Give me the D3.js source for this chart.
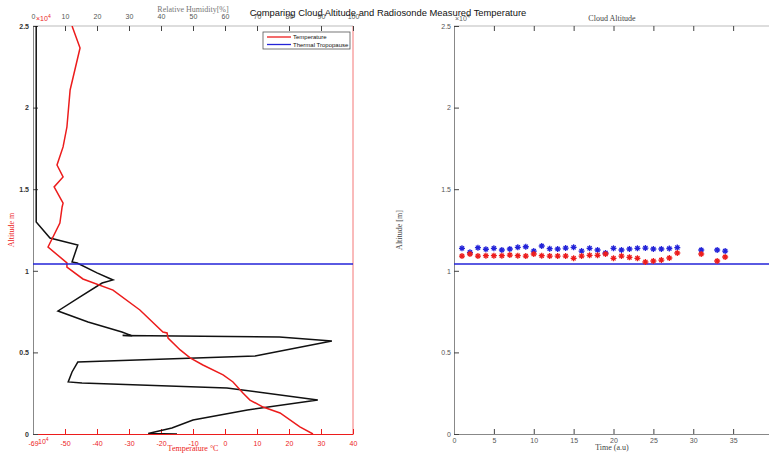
<!DOCTYPE html>
<meta charset="utf-8">
<style>
body { margin: 0; background: #fff; }
svg { display: block; }
.tick text { font-family: "Liberation Sans", Arial, sans-serif; font-size: 7px; }
.lbl { font-family: "Liberation Serif", "Times New Roman", serif; font-size: 8px; }
</style>
<svg width="769" height="454"></svg>
<script src="https://d3js.org/d3.v7.min.js"></script>
<script>

// temperature sounding (altitude m, temperature C)
var altT  = [0, 430, 1290, 1650, 2080, 2510, 3190, 3620, 4230, 4660, 5150, 5880, 6190, 6250, 7600, 8820, 9500, 10230, 10480, 11460, 12930, 13910, 14150, 15140, 15750, 16480, 17590, 18810, 21080, 23650, 25000];
var tempC = [27.5, 23.4, 17.2, 11.9, 7.8, 5.6, 2.5, -0.6, -6.9, -10.9, -14, -17.8, -18.1, -19.4, -26.6, -35, -44.4, -49.4, -49.4, -55.3, -51.6, -50.9, -50.6, -53.4, -50.6, -52.5, -50.6, -49.4, -48.4, -45.3, -47.8];

// relative humidity profile (altitude m, RH %)
var altRH = [0, 30, 370, 860, 1470, 2080, 2820, 3125, 3190, 3800, 4410, 4780, 5700, 5950, 6040, 6010, 6250, 6860, 7540, 8400, 9250, 9440, 9870, 10480, 10540, 11580, 12010, 12990, 25000];
var rh    = [45, 36, 43.4, 50, 67, 89, 60.6, 15.3, 11, 12.2, 14, 69.4, 93.4, 77, 28, 31, 27.8, 17.2, 7.8, 14.7, 21.6, 25, 20, 13.8, 12.2, 14, 5.3, 1, 1];

var tropopause = 10420;

// cloud altitude measurements
var times     = [1, 2, 3, 4, 5, 6, 7, 8, 9, 10, 11, 12, 13, 14, 15, 16, 17, 18, 19, 20, 21, 22, 23, 24, 25, 26, 27, 28, 31, 33, 34];
var cloudTop  = [11380, 11130, 11415, 11320, 11380, 11275, 11335, 11440, 11475, 11210, 11520, 11355, 11335, 11395, 11440, 11210, 11380, 11275, 11090, 11380, 11275, 11335, 11380, 11395, 11335, 11335, 11365, 11425, 11275, 11275, 11210];
var cloudBase = [10905, 11030, 10905, 10925, 10925, 10925, 10965, 10925, 10905, 11030, 10925, 10905, 10905, 10905, 10765, 10905, 10950, 10950, 11030, 10765, 10905, 10825, 10765, 10540, 10600, 10660, 10785, 11090, 11030, 10600, 10845];

var tempTicks = [-60, -50, -40, -30, -20, -10, 0, 10, 20, 30, 40];
var rhTicks   = [0, 10, 20, 30, 40, 50, 60, 70, 80, 90, 100];
var altTicks  = [0, 5000, 10000, 15000, 20000, 25000];
var timeTicks = [0, 5, 10, 15, 20, 25, 30, 35];

var red = "#ec1c1c", blue = "#2323d8", grey = "#888", dark = "#444";

var svg = d3.select("svg");

var yTop = 26, yBot = 434;

var y = d3.scaleLinear().domain([0, 25000]).range([yBot, yTop]);
var xT = d3.scaleLinear().domain([-60, 40]).range([33, 353]);
var xH = d3.scaleLinear().domain([0, 100]).range([33, 353]);
var xTime = d3.scaleLinear().domain([0, 40]).range([454, 773]);

function fmtAlt(d) { return d3.format("~g")(d / 10000); }

// ---------- left panel ----------
var L = svg.append("g");

L.append("line").attr("x1", 33).attr("x2", 353).attr("y1", yTop).attr("y2", yTop)
  .attr("stroke", "#bbb");
L.append("line").attr("x1", 353).attr("x2", 353).attr("y1", yTop).attr("y2", yBot)
  .attr("stroke", red).attr("stroke-opacity", 0.6);

// top RH axis
var gTop = L.append("g").attr("transform", "translate(0," + yTop + ")")
  .call(d3.axisTop(xH).tickValues(rhTicks).tickSize(-5).tickSizeOuter(0).tickPadding(7));
gTop.select(".domain").remove();
gTop.selectAll("line").attr("stroke", dark);
gTop.selectAll("text").attr("fill", "#555");

// bottom temperature axis
var gBot = L.append("g").attr("transform", "translate(0," + yBot + ")")
  .call(d3.axisBottom(xT).tickValues(tempTicks).tickSize(-5).tickSizeOuter(0).tickPadding(7)
    .tickFormat(function(d) { return d === -60 ? "-69" : d; }));
gBot.select(".domain").attr("stroke", red);
gBot.selectAll("line").attr("stroke", red);
gBot.selectAll("text").attr("fill", red);

// left altitude axis
var gLeft = L.append("g").attr("transform", "translate(33,0)")
  .call(d3.axisLeft(y).tickValues(altTicks).tickSize(-5).tickSizeOuter(0).tickPadding(4).tickFormat(fmtAlt));
gLeft.select(".domain").attr("stroke", grey);
gLeft.selectAll("line").attr("stroke", dark);
gLeft.selectAll("text").attr("fill", "#333").attr("font-weight", "bold");

L.append("text").attr("x", 36).attr("y", 21).attr("fill", red)
  .style("font-family", "Liberation Sans").style("font-size", "7px")
  .html('×10<tspan dy="-3" font-size="5">4</tspan>');
L.append("text").attr("x", 38).attr("y", 444).attr("fill", red)
  .style("font-family", "Liberation Sans").style("font-size", "7px")
  .html('10<tspan dy="-3" font-size="5">4</tspan>');

L.append("text").attr("class", "lbl").attr("x", 193).attr("y", 12)
  .attr("text-anchor", "middle").attr("fill", "#777").text("Relative Humidity[%]");
L.append("text").attr("class", "lbl").attr("x", 193).attr("y", 451)
  .attr("text-anchor", "middle").attr("fill", red).text("Temperature °C");
L.append("text").attr("class", "lbl").attr("transform", "translate(14,230) rotate(-90)")
  .attr("text-anchor", "middle").attr("fill", red).text("Altitude m");

svg.append("clipPath").attr("id", "clipL").append("rect")
  .attr("x", 33).attr("y", yTop).attr("width", 320).attr("height", yBot - yTop);

var plotL = L.append("g").attr("clip-path", "url(#clipL)");

plotL.append("path")
  .datum(d3.range(altRH.length))
  .attr("fill", "none").attr("stroke", "#111").attr("stroke-width", 1.5)
  .attr("d", d3.line().x(function(i) { return xH(rh[i]); }).y(function(i) { return y(altRH[i]); }));

plotL.append("path")
  .datum(d3.range(altT.length))
  .attr("fill", "none").attr("stroke", red).attr("stroke-width", 1.5)
  .attr("d", d3.line().x(function(i) { return xT(tempC[i]); }).y(function(i) { return y(altT[i]); }));

plotL.append("line").attr("x1", 33).attr("x2", 353)
  .attr("y1", y(tropopause)).attr("y2", y(tropopause))
  .attr("stroke", blue).attr("stroke-width", 1.5);

// legend
var leg = L.append("g").attr("transform", "translate(263,32)");
leg.append("rect").attr("width", 87).attr("height", 17).attr("fill", "#fff").attr("stroke", "#555").attr("stroke-width", 0.8);
var items = [["Temperature", red], ["Thermal Tropopause", blue]];
items.forEach(function(it, i) {
  leg.append("line").attr("x1", 4).attr("x2", 28).attr("y1", 5 + i * 7.5).attr("y2", 5 + i * 7.5)
    .attr("stroke", it[1]).attr("stroke-width", 1.3);
  leg.append("text").attr("x", 30).attr("y", 7 + i * 7.5)
    .style("font-family", "Liberation Sans").style("font-size", "6px").attr("fill", "#111").text(it[0]);
});

// ---------- right panel ----------
var R = svg.append("g");

R.append("line").attr("x1", 454).attr("x2", 769).attr("y1", yTop).attr("y2", yTop).attr("stroke", "#bbb");

var gTop2 = R.append("g").attr("transform", "translate(0," + yTop + ")")
  .call(d3.axisTop(xTime).tickValues(timeTicks).tickSize(-5).tickSizeOuter(0).tickFormat(""));
gTop2.select(".domain").remove();
gTop2.selectAll("line").attr("stroke", dark);

var gBot2 = R.append("g").attr("transform", "translate(0," + yBot + ")")
  .call(d3.axisBottom(xTime).tickValues(timeTicks).tickSize(-5).tickSizeOuter(0).tickPadding(4));
gBot2.select(".domain").attr("stroke", grey);
gBot2.selectAll("line").attr("stroke", dark);
gBot2.selectAll("text").attr("fill", "#555");

var gLeft2 = R.append("g").attr("transform", "translate(454,0)")
  .call(d3.axisLeft(y).tickValues(altTicks).tickSize(-5).tickSizeOuter(0).tickPadding(3).tickFormat(fmtAlt));
gLeft2.select(".domain").attr("stroke", grey);
gLeft2.selectAll("line").attr("stroke", dark);
gLeft2.selectAll("text").attr("fill", "#555");

R.append("text").attr("x", 455).attr("y", 21).attr("fill", "#666")
  .style("font-family", "Liberation Sans").style("font-size", "7px")
  .html('×10<tspan dy="-3" font-size="5">4</tspan>');

R.append("text").attr("class", "lbl").attr("x", 612).attr("y", 21)
  .attr("text-anchor", "middle").attr("fill", "#444").text("Cloud Altitude");
R.append("text").attr("class", "lbl").attr("x", 612).attr("y", 450)
  .attr("text-anchor", "middle").attr("fill", "#444").text("Time (a.u)");
R.append("text").attr("class", "lbl").attr("transform", "translate(402,230) rotate(-90)")
  .attr("text-anchor", "middle").attr("fill", "#444").text("Altitude [m]");

R.append("line").attr("x1", 454).attr("x2", 769)
  .attr("y1", y(tropopause)).attr("y2", y(tropopause))
  .attr("stroke", blue).attr("stroke-width", 1.5);

var star = "M-3,0H3M0,-3V3M-2.1,-2.1L2.1,2.1M-2.1,2.1L2.1,-2.1";

R.selectAll(".top").data(d3.range(times.length)).enter().append("path")
  .attr("d", star).attr("stroke", blue).attr("stroke-width", 1.3)
  .attr("transform", function(i) { return "translate(" + xTime(times[i]) + "," + y(cloudTop[i]) + ")"; });

R.selectAll(".base").data(d3.range(times.length)).enter().append("path")
  .attr("d", star).attr("stroke", red).attr("stroke-width", 1.3)
  .attr("transform", function(i) { return "translate(" + xTime(times[i]) + "," + y(cloudBase[i]) + ")"; });

// main title
svg.append("text").attr("x", 388).attr("y", 16).attr("text-anchor", "middle")
  .style("font-family", "Liberation Sans").style("font-size", "9.4px").attr("fill", "#111")
  .text("Comparing Cloud Altitude and Radiosonde Measured Temperature");

</script>
